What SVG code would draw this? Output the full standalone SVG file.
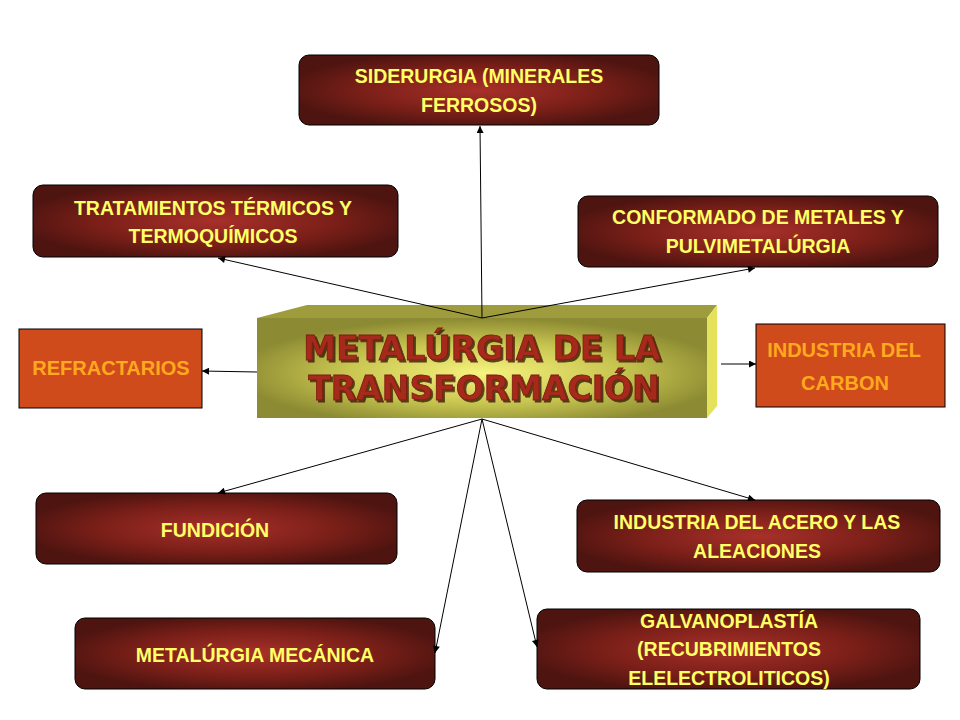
<svg xmlns="http://www.w3.org/2000/svg" width="960" height="720" viewBox="0 0 960 720">
<defs>
<radialGradient id="red" cx="50%" cy="50%" r="55%">
<stop offset="0" stop-color="#A8302A"/>
<stop offset="0.6" stop-color="#7A1F18"/>
<stop offset="1" stop-color="#4E1410"/>
</radialGradient>
<radialGradient id="olive" cx="50%" cy="55%" r="55%">
<stop offset="0" stop-color="#F6F47E"/>
<stop offset="0.55" stop-color="#C8C650"/>
<stop offset="1" stop-color="#8C8A32"/>
</radialGradient>
<filter id="sh" x="-5%" y="-20%" width="110%" height="140%">
<feDropShadow dx="2" dy="2" stdDeviation="0.6" flood-color="#2A0C04" flood-opacity="0.75"/>
</filter>
<marker id="ah" viewBox="0 0 10 10" refX="10" refY="5" markerWidth="9" markerHeight="7" markerUnits="userSpaceOnUse" orient="auto">
<path d="M0,0 L10,5 L0,10 z" fill="#000"/>
</marker>
</defs>
<style>
.box{fill:url(#red);stroke:#000;stroke-width:1}
.t{font-family:"Liberation Sans",Arial,sans-serif;font-weight:bold;font-size:19.5px;fill:#FFFF66;text-anchor:middle}
.ob{fill:#D04B1C;stroke:#000;stroke-width:1}
.ot{font-family:"Liberation Sans",Arial,sans-serif;font-weight:bold;font-size:20px;fill:#FFA91E;text-anchor:middle}
.ct{font-family:"DejaVu Sans",Verdana,sans-serif;font-weight:bold;font-size:33px;text-anchor:middle;fill:#A52C1C;stroke:#7A1A10;stroke-width:0.8}
.c line{stroke:#000;stroke-width:1;marker-end:url(#ah)}
</style>
<rect width="960" height="720" fill="#fff"/>

<g id="central">
<polygon points="257,318 307,305 717,305 707,318" fill="#9E9C3C"/>
<polygon points="707,318 717,305 717,406 707,418" fill="#E4E25A"/>
<rect x="257" y="318" width="450" height="100" fill="url(#olive)"/>
<g filter="url(#sh)">
<text class="ct" x="482" y="360">METALÚRGIA DE LA</text>
<text class="ct" x="484" y="400">TRANSFORMACIÓN</text>
</g>
</g>

<g id="siderurgia">
<rect class="box" x="299" y="55" width="360" height="70" rx="10"/>
<text class="t" x="479" y="83">SIDERURGIA (MINERALES</text>
<text class="t" x="479" y="112">FERROSOS)</text>
</g>

<g id="tratamientos">
<rect class="box" x="33" y="185" width="365" height="72" rx="10"/>
<text class="t" x="213" y="215">TRATAMIENTOS TÉRMICOS Y</text>
<text class="t" x="213" y="243">TERMOQUÍMICOS</text>
</g>

<g id="conformado">
<rect class="box" x="578" y="196" width="360" height="71" rx="10"/>
<text class="t" x="758" y="224">CONFORMADO DE METALES Y</text>
<text class="t" x="758" y="253">PULVIMETALÚRGIA</text>
</g>

<g id="refractarios">
<rect class="ob" x="19" y="329" width="183" height="79"/>
<text class="ot" x="111" y="375">REFRACTARIOS</text>
</g>

<g id="carbon">
<rect class="ob" x="756" y="324" width="189" height="83"/>
<text class="ot" x="844" y="357">INDUSTRIA DEL</text>
<text class="ot" x="845" y="390">CARBON</text>
</g>

<g id="fundicion">
<rect class="box" x="36" y="493" width="361" height="71" rx="10"/>
<text class="t" x="215" y="537">FUNDICIÓN</text>
</g>

<g id="acero">
<rect class="box" x="577" y="500" width="363" height="72" rx="10"/>
<text class="t" x="757" y="529">INDUSTRIA DEL ACERO Y LAS</text>
<text class="t" x="757" y="558">ALEACIONES</text>
</g>

<g id="mecanica">
<rect class="box" x="75" y="618" width="360" height="71" rx="10"/>
<text class="t" x="255" y="662">METALÚRGIA MECÁNICA</text>
</g>

<g id="galvanoplastia">
<rect class="box" x="537" y="609" width="383" height="80" rx="10"/>
<text class="t" x="729" y="628">GALVANOPLASTÍA</text>
<text class="t" x="729" y="656">(RECUBRIMIENTOS</text>
<text class="t" x="729" y="685">ELELECTROLITICOS)</text>
</g>

<g id="connectors" class="c">
<line x1="482" y1="318" x2="480" y2="126"/>
<line x1="482" y1="318" x2="218" y2="258"/>
<line x1="482" y1="318" x2="755" y2="268"/>
<line x1="257" y1="372" x2="202" y2="371"/>
<line x1="721" y1="364" x2="756" y2="364"/>
<line x1="482" y1="419" x2="218" y2="493"/>
<line x1="482" y1="419" x2="755" y2="500"/>
<line x1="482" y1="419" x2="435" y2="653"/>
<line x1="482" y1="419" x2="537" y2="647"/>
</g>
</svg>
